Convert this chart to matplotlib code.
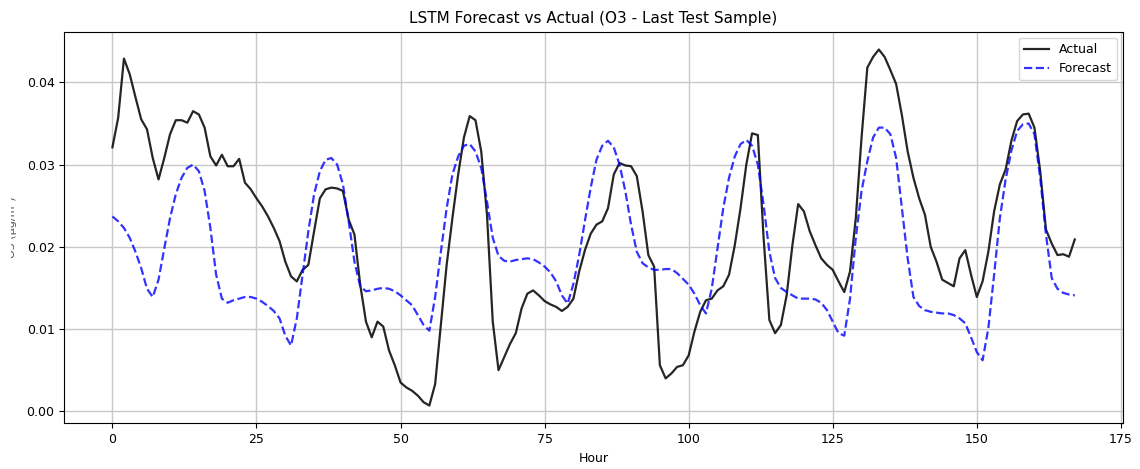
import numpy as np
import matplotlib
matplotlib.use("Agg")
import matplotlib.pyplot as plt
from matplotlib.transforms import Bbox, TransformedBbox

# O3 values, one per hour (0..167)
actual = [
    0.0321, 0.0357, 0.0429, 0.0410, 0.0382, 0.0355, 0.0343, 0.0308, 0.0282, 0.0308,
    0.0337, 0.0354, 0.0354, 0.0351, 0.0365, 0.0361, 0.0345, 0.0310, 0.0299, 0.0312,
    0.0298, 0.0298, 0.0307, 0.0278, 0.0270, 0.0259, 0.0249, 0.0237, 0.0223, 0.0207,
    0.0182, 0.0164, 0.0158, 0.0172, 0.0178, 0.0219, 0.0259, 0.0270, 0.0272, 0.0271,
    0.0268, 0.0233, 0.0215, 0.0154, 0.0109, 0.0090, 0.0109, 0.0103, 0.0074, 0.0056,
    0.0035, 0.0029, 0.0025, 0.0019, 0.0011, 0.0007, 0.0033, 0.0105, 0.0178, 0.0235,
    0.0288, 0.0333, 0.0359, 0.0354, 0.0316, 0.0239, 0.0109, 0.0050, 0.0066, 0.0082,
    0.0095, 0.0125, 0.0143, 0.0147, 0.0141, 0.0134, 0.0130, 0.0127, 0.0122, 0.0127,
    0.0137, 0.0170, 0.0196, 0.0216, 0.0227, 0.0231, 0.0247, 0.0288, 0.0302, 0.0299,
    0.0298, 0.0286, 0.0243, 0.0190, 0.0176, 0.0056, 0.0040, 0.0046, 0.0054, 0.0056,
    0.0068, 0.0097, 0.0121, 0.0135, 0.0137, 0.0147, 0.0152, 0.0166, 0.0202, 0.0247,
    0.0300, 0.0338, 0.0336, 0.0211, 0.0111, 0.0095, 0.0105, 0.0141, 0.0202, 0.0252,
    0.0243, 0.0219, 0.0202, 0.0186, 0.0178, 0.0172, 0.0158, 0.0145, 0.0170, 0.0235,
    0.0333, 0.0418, 0.0431, 0.0440, 0.0431, 0.0415, 0.0398, 0.0360, 0.0316, 0.0284,
    0.0259, 0.0239, 0.0200, 0.0182, 0.0160, 0.0156, 0.0152, 0.0186, 0.0196, 0.0166,
    0.0139, 0.0158, 0.0194, 0.0243, 0.0276, 0.0294, 0.0329, 0.0353, 0.0361, 0.0362,
    0.0345, 0.0292, 0.0221, 0.0204, 0.0190, 0.0191, 0.0188, 0.0209,
]

forecast = [
    0.0237, 0.0231, 0.0223, 0.0211, 0.0194, 0.0174, 0.0149, 0.0139, 0.0160, 0.0198,
    0.0235, 0.0264, 0.0284, 0.0296, 0.0300, 0.0292, 0.0268, 0.0223, 0.0166, 0.0137,
    0.0132, 0.0135, 0.0137, 0.0139, 0.0139, 0.0137, 0.0133, 0.0128, 0.0122, 0.0113,
    0.0092, 0.0080, 0.0113, 0.0166, 0.0219, 0.0264, 0.0292, 0.0306, 0.0308, 0.0300,
    0.0276, 0.0231, 0.0182, 0.0152, 0.0146, 0.0147, 0.0149, 0.0150, 0.0149, 0.0146,
    0.0141, 0.0135, 0.0129, 0.0117, 0.0105, 0.0098, 0.0139, 0.0194, 0.0247, 0.0288,
    0.0310, 0.0323, 0.0325, 0.0316, 0.0296, 0.0255, 0.0211, 0.0189, 0.0183, 0.0182,
    0.0184, 0.0185, 0.0186, 0.0185, 0.0181, 0.0176, 0.0169, 0.0158, 0.0141, 0.0131,
    0.0155, 0.0190, 0.0232, 0.0272, 0.0306, 0.0323, 0.0329, 0.0321, 0.0300, 0.0268,
    0.0227, 0.0194, 0.0180, 0.0175, 0.0172, 0.0172, 0.0173, 0.0173, 0.0168, 0.0161,
    0.0154, 0.0143, 0.0129, 0.0119, 0.0149, 0.0198, 0.0247, 0.0284, 0.0310, 0.0325,
    0.0330, 0.0323, 0.0300, 0.0251, 0.0194, 0.0162, 0.0150, 0.0145, 0.0141, 0.0137,
    0.0137, 0.0137, 0.0136, 0.0132, 0.0123, 0.0109, 0.0095, 0.0092, 0.0137, 0.0211,
    0.0268, 0.0304, 0.0333, 0.0345, 0.0345, 0.0337, 0.0308, 0.0247, 0.0186, 0.0139,
    0.0128, 0.0123, 0.0121, 0.0120, 0.0119, 0.0119, 0.0117, 0.0113, 0.0107, 0.0090,
    0.0072, 0.0062, 0.0101, 0.0166, 0.0235, 0.0282, 0.0317, 0.0341, 0.0349, 0.0350,
    0.0337, 0.0284, 0.0215, 0.0162, 0.0149, 0.0144, 0.0142, 0.0141,
]

hours = np.arange(len(actual))

fig = plt.figure(figsize=(11.4, 4.69), dpi=100)
ax = fig.add_axes([0.0564, 0.0974, 0.9286, 0.835])

ax.plot(hours, actual, color='black', linewidth=1.6, alpha=0.85, label='Actual')
ax.plot(hours, forecast, color='blue', linestyle='--', linewidth=1.6, alpha=0.8, label='Forecast')

ax.set_title('LSTM Forecast vs Actual (O3 - Last Test Sample)', fontsize=11)
ax.set_xlabel('Hour', fontsize=9)
ax.tick_params(labelsize=9)
ax.grid(True, color='#c8c8c8', linewidth=1.0)
ax.legend(loc='upper right', fontsize=9)

# y label is cut off at the left edge in the reference
ylab = ax.set_ylabel('O3 (µg/m³)', fontsize=8, color='#555555')
ax.yaxis.set_label_coords(-0.0447, 0.5)
ylab.set_clip_box(TransformedBbox(Bbox([[11 / 1140, 0], [1, 1]]), fig.transFigure))
ylab.set_clip_on(True)

fig.savefig('out.png', dpi=100)
